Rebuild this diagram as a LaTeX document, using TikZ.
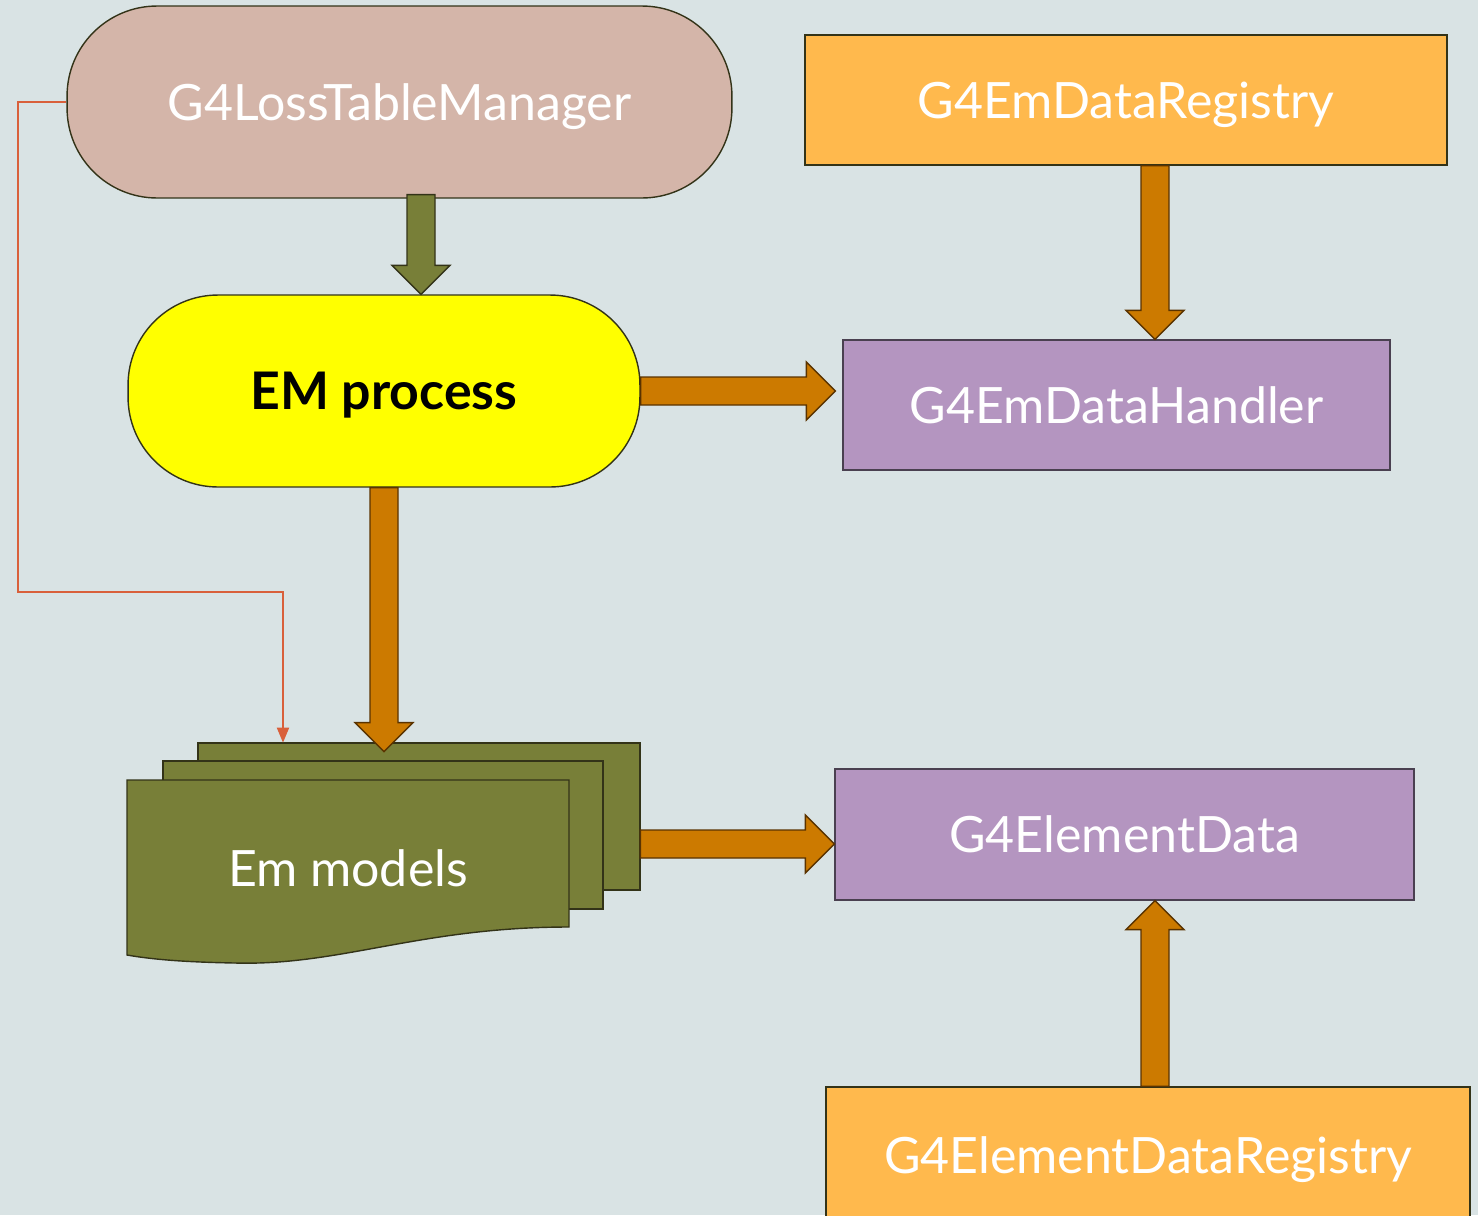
\documentclass[tikz,border=0pt]{standalone}
\usepackage{fontspec}
\setmainfont{Lato}
\usetikzlibrary{calc,arrows.meta}

\definecolor{bgcol}{HTML}{D9E3E4}
\definecolor{edge}{HTML}{333318}
\definecolor{pinkbox}{HTML}{D4B5A9}
\definecolor{regbox}{HTML}{FFB94D}
\definecolor{purplebox}{HTML}{B495C0}
\definecolor{purpleedge}{HTML}{4A4050}
\definecolor{procyellow}{HTML}{FFFF00}
\definecolor{emolive}{HTML}{787F38}
\definecolor{arrorange}{HTML}{CC7A00}
\definecolor{arredge}{HTML}{5A3300}
\definecolor{linkred}{HTML}{D9603B}

% block arrow from #2 to #3, style #1
\newcommand{\blockarrow}[3]{%
  \draw[#1] let \p1=(#2), \p2=(#3),
      \n1={atan2(\y2-\y1,\x2-\x1)}, \n2={veclen(\x2-\x1,\y2-\y1)} in
    ($(\p1)+(\n1+90:0.28cm)$) -- ++(\n1:\n2-0.58cm) -- ++(\n1+90:0.3cm) -- (\p2)
    -- ($(\p2)+(\n1+180:0.58cm)+(\n1-90:0.58cm)$) -- ++(\n1+90:0.3cm)
    -- ($(\p1)+(\n1-90:0.28cm)$) -- cycle;}

\begin{document}
\begin{tikzpicture}[
  x=0.02cm, y=-0.02cm,
  font=\fontsize{28.5}{34}\selectfont,
  box/.style={rectangle, draw=edge, line width=0.8pt, text=white, inner sep=0pt, text depth=0pt},
  pill/.style={box, rounded corners=1.8cm, minimum height=3.84cm},
  registry/.style={box, fill=regbox, minimum height=2.6cm},
  dataclass/.style={box, fill=purplebox, draw=purpleedge, minimum height=2.6cm},
  sheet/.style={fill=emolive, draw=edge, line width=0.8pt},
  orangearr/.style={fill=arrorange, draw=arredge, line width=0.8pt},
  olivearr/.style={fill=emolive, draw=edge, line width=0.8pt},
  link/.style={draw=linkred, line width=1.1pt, -{Triangle[length=0.3cm,width=0.24cm]}}
]

% --- background ---
\useasboundingbox (0,0) rectangle (1478,1215);
\fill[bgcol] (0,0) rectangle (1478,1215);

% --- nodes ---
\node[pill, fill=pinkbox, minimum width=13.3cm] (ltm) at (399.5,102) {G4LossTableManager};
\node[pill, fill=procyellow, text=black, minimum width=10.24cm, font=\fontsize{29.5}{34}\selectfont\bfseries]
  (proc) at (384,391) {EM process};
\node[registry, minimum width=12.84cm] (reg) at (1126,100) {G4EmDataRegistry};
\node[dataclass, minimum width=10.94cm] (handler) at (1116.5,405) {G4EmDataHandler};
\node[dataclass, minimum width=11.58cm, minimum height=2.62cm] (eldata) at (1124.5,834.5) {G4ElementData};
\node[registry, minimum width=12.88cm, minimum height=2.72cm] (elreg) at (1148,1155) {G4ElementDataRegistry};

% --- Em models stack ---
\node[inner sep=0pt, minimum width=10.26cm, minimum height=4.04cm] (models) at (383.5,844) {};
\draw[sheet] (198,743) rectangle (640,890);
\draw[sheet] (163,761) rectangle (603,909);
\draw[sheet] (127,780) -- (569,780) -- (569,927)
  .. controls (420,927) and (340,966) .. (235,963)
  .. controls (180,962) and (150,959) .. (127,955) -- cycle;
\node[text=white, text depth=0pt] (modeltxt) at (348,868) {Em models};

% --- block arrows ---
\blockarrow{olivearr}{$(ltm.south)+(21.5,-4)$}{$(proc.north)+(37,0)$}
\blockarrow{orangearr}{proc.east}{$(proc.east -| handler.west)+(-7,0)$}
\blockarrow{orangearr}{$(reg.south)+(29,0)$}{$(handler.north)+(38.5,0)$}
\blockarrow{orangearr}{proc.south}{$(proc.south |- models.north)+(0,9)$}
\blockarrow{orangearr}{models.east}{$(models.east -| eldata.west)$}
\blockarrow{orangearr}{$(elreg.north)+(7,0)$}{$(eldata.south)+(30.5,0)$}

% --- thin link ---
\coordinate (kink) at (283,592);
\draw[link] (ltm.west) -- ++(-48,0) |- (kink) -- (kink |- models.north);

\end{tikzpicture}
\end{document}
